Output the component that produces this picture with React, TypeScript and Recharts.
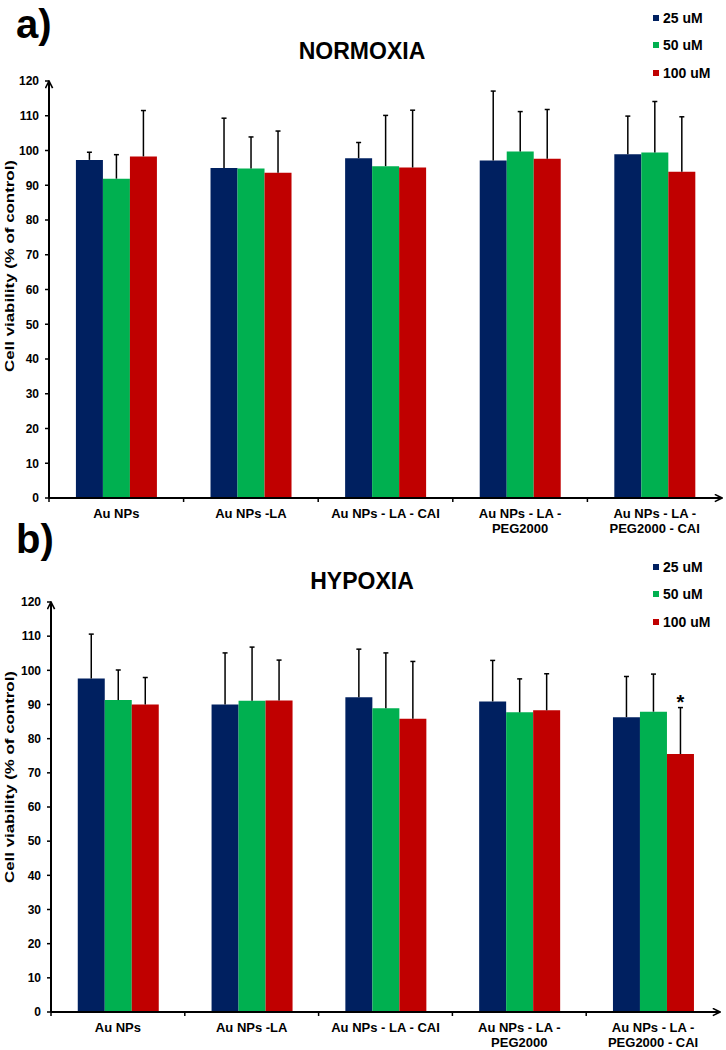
import React from "react"
import { BarChart, Bar, XAxis, YAxis, ErrorBar, Legend, LabelList } from "recharts"

const FONT = "'Liberation Sans', Arial, sans-serif"

const categories = [
  "Au NPs",
  "Au NPs -LA",
  "Au NPs - LA - CAI",
  "Au NPs - LA -\nPEG2000",
  "Au NPs - LA -\nPEG2000 - CAI",
]
const seriesNames = ["25 uM", "50 uM", "100 uM"]
const seriesColors = ["#002060", "#00B050", "#C00000"]
const yTicks = [0, 10, 20, 30, 40, 50, 60, 70, 80, 90, 100, 110, 120]

// a) normoxia
const normoxia25 = [97.3, 95.0, 97.8, 97.1, 98.9]
const normoxia50 = [91.9, 94.8, 95.5, 99.7, 99.4]
const normoxia100 = [98.3, 93.6, 95.1, 97.6, 93.9]
const normoxia25Sd = [2.2, 14.3, 4.5, 20.0, 11.0]
const normoxia50Sd = [6.9, 9.1, 14.6, 11.5, 14.7]
const normoxia100Sd = [13.2, 12.0, 16.5, 14.2, 15.8]

// b) hypoxia
const hypoxia25 = [97.6, 90.0, 92.1, 90.9, 86.3]
const hypoxia50 = [91.3, 91.1, 88.9, 87.7, 87.9]
const hypoxia100 = [90.0, 91.2, 85.8, 88.3, 75.5]
const hypoxia25Sd = [13.0, 15.1, 14.1, 12.0, 11.9]
const hypoxia50Sd = [8.8, 15.7, 16.2, 9.8, 11.0]
const hypoxia100Sd = [7.9, 11.8, 16.8, 10.7, 13.6]
const hypoxia100Marks = ["", "", "", "", "*"]

const noMarks = ["", "", "", "", ""]

const buildRows = (vals: number[][], sds: number[][], marks: string[][]) =>
  categories.map((name, i) => ({
    name,
    v0: vals[0][i],
    v1: vals[1][i],
    v2: vals[2][i],
    e0: [0, sds[0][i]],
    e1: [0, sds[1][i]],
    e2: [0, sds[2][i]],
    m0: marks[0][i],
    m1: marks[1][i],
    m2: marks[2][i],
  }))

const normoxiaVals = [normoxia25, normoxia50, normoxia100]
const normoxiaSds = [normoxia25Sd, normoxia50Sd, normoxia100Sd]
const hypoxiaVals = [hypoxia25, hypoxia50, hypoxia100]
const hypoxiaSds = [hypoxia25Sd, hypoxia50Sd, hypoxia100Sd]

const normoxiaRows = buildRows(normoxiaVals, normoxiaSds, [noMarks, noMarks, noMarks])
const hypoxiaRows = buildRows(hypoxiaVals, hypoxiaSds, [noMarks, noMarks, hypoxia100Marks])

const CategoryTick = (props: any) => {
  const { x, y, payload } = props
  const half = payload && payload.offset ? payload.offset : 67
  const lines = String(payload.value).split("\n")
  return (
    <g>
      <line x1={x - half} y1={y} x2={x - half} y2={y + 4} stroke="#000" strokeWidth={1.5} />
      <text
        x={x}
        y={y + 20}
        textAnchor="middle"
        fontFamily={FONT}
        fontSize={13}
        fontWeight="bold"
        fill="#000"
      >
        {lines.map((l, i) => (
          <tspan key={i} x={x} dy={i === 0 ? 0 : 15}>
            {l}
          </tspan>
        ))}
      </text>
    </g>
  )
}

const LegendBox = (props: any) => {
  const items = [...(props.payload || [])].sort(
    (a: any, b: any) => seriesNames.indexOf(a.value) - seriesNames.indexOf(b.value)
  )
  return (
    <div>
      {items.map((e: any) => (
        <div
          key={e.value}
          style={{
            display: "flex",
            alignItems: "center",
            height: 27.5,
            fontFamily: FONT,
            fontSize: 14,
            fontWeight: "bold",
            color: "#000",
          }}
        >
          <span style={{ width: 6, height: 6, background: e.color, marginRight: 4 }} />
          {e.value}
        </div>
      ))}
    </div>
  )
}

// cap on top of the error bar (and the significance mark, if any)
const makeCap = (vals: number[], sds: number[]) => (props: any) => {
  const { x, y, width, height, index, value } = props
  const v = vals[index]
  const sd = sds[index]
  if (!v) return null
  const cx = Number(x) + Number(width) / 2
  const errTop = Number(y) - (sd / v) * Number(height)
  return (
    <g key={`cap-${index}`}>
      <line x1={cx - 2.5} y1={errTop} x2={cx + 2.5} y2={errTop} stroke="#000" strokeWidth={1.5} />
      {value ? (
        <text
          x={cx}
          y={errTop + 1}
          textAnchor="middle"
          fontFamily={FONT}
          fontSize={20}
          fontWeight="bold"
          fill="#000"
        >
          {value}
        </text>
      ) : null}
    </g>
  )
}

type PanelProps = {
  id: string
  rows: any[]
  vals: number[][]
  sds: number[][]
  top: number
  height: number
  marginTop: number
  marginRight: number
  yAxisWidth: number
  xAxisHeight: number
  legendTop: number
}

function Panel({ id, rows, vals, sds, top, height, marginTop, marginRight, yAxisWidth, xAxisHeight, legendTop }: PanelProps) {
  return (
    <div style={{ position: "absolute", left: 0, top }}>
      <BarChart
        width={726}
        height={height}
        data={rows}
        margin={{ top: marginTop, right: marginRight, left: 0, bottom: 0 }}
        barCategoryGap="20%"
        barGap={0}
      >
        <defs>
          <marker
            id={`arrow-${id}`}
            viewBox="0 0 10 10"
            refX="9"
            refY="5"
            markerWidth="9"
            markerHeight="9"
            markerUnits="userSpaceOnUse"
            orient="auto-start-reverse"
          >
            <path d="M1,1 L9,5 L1,9" fill="none" stroke="#000" strokeWidth={1.8} />
          </marker>
        </defs>
        <XAxis
          dataKey="name"
          height={xAxisHeight}
          interval={0}
          tickSize={0}
          tickMargin={0}
          tickLine={false}
          axisLine={{ stroke: "#000", strokeWidth: 2, markerEnd: `url(#arrow-${id})` }}
          tick={<CategoryTick />}
        />
        <YAxis
          width={yAxisWidth}
          domain={[0, 120]}
          ticks={yTicks}
          interval={0}
          tickSize={4}
          tickMargin={6}
          tickLine={{ stroke: "#000", strokeWidth: 1.5 }}
          axisLine={{ stroke: "#000", strokeWidth: 2, markerStart: `url(#arrow-${id})` }}
          tick={{ fill: "#000", fontSize: 12, fontWeight: "bold", fontFamily: FONT }}
        />
        <Legend
          layout="vertical"
          align="center"
          verticalAlign="middle"
          content={<LegendBox />}
          wrapperStyle={{ top: legendTop, left: 653, width: 73 }}
        />
        {seriesNames.map((s, k) => (
          <Bar
            key={s}
            dataKey={`v${k}`}
            name={s}
            fill={seriesColors[k]}
            isAnimationActive={false}
          >
            <ErrorBar
              dataKey={`e${k}`}
              width={0}
              stroke="#000"
              strokeWidth={1.5}
              direction="y"
              isAnimationActive={false}
            />
            <LabelList dataKey={`m${k}`} content={makeCap(vals[k], sds[k])} />
          </Bar>
        ))}
      </BarChart>
    </div>
  )
}

export default function App() {
  const textStyle = { fontFamily: FONT, fontWeight: "bold" as const, fill: "#000" }
  return (
    <div
      style={{
        position: "absolute",
        left: 0,
        top: 0,
        width: 726,
        height: 1050,
        background: "#fff",
        overflow: "hidden",
      }}
    >
      <Panel
        id="a"
        rows={normoxiaRows}
        vals={normoxiaVals}
        sds={normoxiaSds}
        top={0}
        height={545}
        marginTop={81}
        marginRight={4}
        yAxisWidth={49}
        xAxisHeight={47}
        legendTop={4}
      />
      <Panel
        id="b"
        rows={hypoxiaRows}
        vals={hypoxiaVals}
        sds={hypoxiaSds}
        top={513}
        height={537}
        marginTop={89}
        marginRight={6}
        yAxisWidth={51}
        xAxisHeight={38}
        legendTop={40}
      />
      <svg
        width={726}
        height={1050}
        style={{ position: "absolute", left: 0, top: 0, pointerEvents: "none" }}
      >
        <text x={16} y={38} fontSize={40} {...textStyle}>a)</text>
        <text x={16} y={553} fontSize={40} {...textStyle}>b)</text>
        <text x={362} y={58.5} fontSize={23} textAnchor="middle" {...textStyle}>NORMOXIA</text>
        <text x={362} y={589} fontSize={23} textAnchor="middle" {...textStyle}>HYPOXIA</text>
        <text
          transform="translate(9, 266) rotate(-90)"
          fontSize={13}
          textAnchor="middle"
          dominantBaseline="central"
          textLength={212}
          lengthAdjust="spacingAndGlyphs"
          {...textStyle}
        >
          Cell viability (% of control)
        </text>
        <text
          transform="translate(9, 777) rotate(-90)"
          fontSize={13}
          textAnchor="middle"
          dominantBaseline="central"
          textLength={212}
          lengthAdjust="spacingAndGlyphs"
          {...textStyle}
        >
          Cell viability (% of control)
        </text>
      </svg>
    </div>
  )
}
